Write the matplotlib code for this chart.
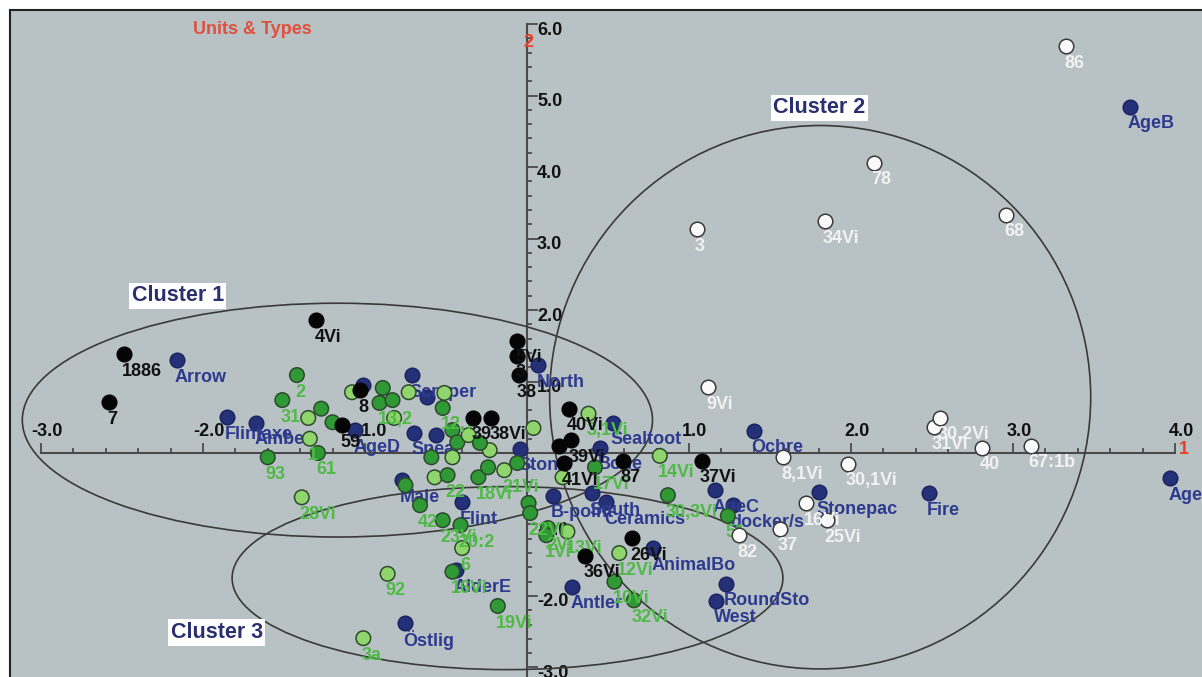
import matplotlib.pyplot as plt
from matplotlib.patches import Ellipse
import numpy as np

plt.rcParams['font.family'] = ['Liberation Sans', 'DejaVu Sans']
plt.rcParams['font.weight'] = 'bold'

# units (black)
black_lbl = ["1886", "7", "4Vi", "8", "59", "39", "38Vi", "5Vi", "3", "38", "40Vi",
             "39Vi", "", "41Vi", "87", "37Vi", "26Vi", "36Vi"]
black_x = [-2.49, -2.58, -1.30, -1.03, -1.14, -0.33, -0.22, -0.06, -0.06, -0.05, 0.26,
           0.27, 0.20, 0.23, 0.59, 1.08, 0.65, 0.36]
black_y = [1.38, 0.71, 1.86, 0.88, 0.39, 0.49, 0.49, 1.57, 1.36, 1.09, 0.62,
           0.18, 0.10, -0.14, -0.11, -0.11, -1.19, -1.44]

# types (navy)
navy_lbl = ["Arrow", "Flintaxe", "Amber", "AgeD", "", "Scraper", "", "Spear", "",
            "Stone", "Bone", "Male", "Flint", "North", "Sealtoot", "B-point", "South",
            "Ceramics", "AnimalBo", "Antler", "AlderE", "Östlig", "RoundSto", "West",
            "Ochre", "AgeC", "docker/s", "Stonepac", "Fire", "AgeB", "AgeA"]
navy_x = [-2.16, -1.85, -1.67, -1.06, -1.01, -0.71, -0.62, -0.70, -0.56,
          -0.04, 0.45, -0.77, -0.40, 0.07, 0.53, 0.16, 0.40,
          0.49, 0.78, 0.28, -0.44, -0.75, 1.23, 1.17,
          1.40, 1.16, 1.27, 1.80, 2.48, 3.72, 3.97]
navy_y = [1.30, 0.50, 0.42, 0.32, 0.95, 1.09, 0.78, 0.28, 0.25,
          0.06, 0.07, -0.38, -0.69, 1.23, 0.42, -0.60, -0.56,
          -0.69, -1.33, -1.87, -1.64, -2.38, -1.83, -2.07,
          0.31, -0.52, -0.73, -0.55, -0.56, 4.84, -0.35]

# units (green, d = dark, l = light)
green_lbl = ["2", "31", "", "", "", "1", "61", "93", "28Vi", "", "", "13,2", "", "",
             "", "", "12,7", "", "", "", "", "", "", "22", "18Vi", "", "", "",
             "42", "23Vi", "20:2", "6", "16Vi", "92", "3a", "19Vi", "", "22Vi",
             "2Vi", "1Vi", "13Vi", "12Vi", "10Vi", "32Vi", "14Vi", "30,3Vi", "51",
             "3,1Vi", "", "17Vi", "", "", "21Vi", ""]
green_kind = ["d", "d", "l", "d", "d", "l", "d", "d", "l", "l", "d", "d", "d", "l",
              "l", "l", "d", "d", "d", "l", "d", "l", "l", "d", "d", "d", "d", "d",
              "d", "d", "d", "l", "d", "l", "l", "d", "d", "d",
              "d", "d", "l", "l", "d", "d", "l", "d", "d",
              "l", "l", "d", "l", "l", "l", "d"]
green_x = [-1.42, -1.51, -1.35, -1.27, -1.20, -1.34, -1.29, -1.60, -1.39, -1.08, -0.89,
           -0.91, -0.83, -0.82, -0.73, -0.51, -0.52, -0.46, -0.43, -0.36, -0.59, -0.46,
           -0.57, -0.49, -0.30, -0.24, -0.06, -0.75,
           -0.66, -0.52, -0.41, -0.40, -0.46, -0.86, -1.01, -0.18, 0.01, 0.02,
           0.13, 0.12, 0.25, 0.57, 0.54, 0.66, 0.82, 0.87, 1.24,
           0.38, 0.04, 0.42, 0.22, -0.23, -0.14, -0.29]
green_y = [1.09, 0.74, 0.49, 0.62, 0.43, 0.20, 0.00, -0.06, -0.62, 0.85, 0.91,
           0.70, 0.74, 0.49, 0.85, 0.84, 0.63, 0.32, 0.15, 0.25, -0.06, -0.06,
           -0.34, -0.31, -0.34, -0.20, -0.14, -0.45,
           -0.73, -0.94, -1.01, -1.33, -1.66, -1.69, -2.59, -2.14, -0.70, -0.84,
           -1.05, -1.15, -1.10, -1.40, -1.80, -2.06, -0.04, -0.59, -0.88,
           0.55, 0.35, -0.20, -0.34, 0.04, -0.24, 0.14]

# units (white)
white_lbl = ["86", "78", "3", "34Vi", "68", "9Vi", "8,1Vi", "30,1Vi", "31Vi", "30,2Vi",
             "40", "67:1b", "82", "37", "25Vi", "16Vi"]
white_x = [3.33, 2.14, 1.05, 1.84, 2.96, 1.12, 1.58, 1.98, 2.51, 2.55,
           2.81, 3.11, 1.31, 1.56, 1.85, 1.72]
white_y = [5.69, 4.06, 3.13, 3.24, 3.33, 0.92, -0.06, -0.15, 0.36, 0.49,
           0.07, 0.10, -1.15, -1.06, -0.94, -0.70]

# clusters: label, centre x, centre y, width, height, label x, label y
cluster_lbl = ["Cluster 1", "Cluster 2", "Cluster 3"]
cluster_cx = [-1.17, 1.81, -0.12]
cluster_cy = [0.46, 0.78, -1.75]
cluster_w = [3.89, 3.34, 3.40]
cluster_h = [3.27, 7.60, 2.56]
cluster_tx = [-2.44, 1.52, -2.20]
cluster_ty = [2.20, 4.83, -2.51]

fig = plt.figure(figsize=(12.02, 6.77), dpi=100)
ax = fig.add_axes([10 / 1202, 0, 1192 / 1202, 667 / 677])
ax.set_facecolor('#b8c1c4')
ax.set_xlim(-3.191, 4.167)
ax.set_ylim(-3.133, 6.196)
ax.set_xticks([])
ax.set_yticks([])
for s in ['bottom', 'right']:
    ax.spines[s].set_visible(False)
for s in ['left', 'top']:
    ax.spines[s].set_linewidth(1.5)
    ax.spines[s].set_color('#222222')

axc = '#4a4a4a'
ax.plot([-3, 4], [0, 0], color=axc, lw=1.5, zorder=1)
ax.plot([0, 0], [-3.2, 6], color=axc, lw=1.5, zorder=1)
for t in np.arange(-3, 4.01, 0.2):
    major = abs(t - round(t)) < 1e-6
    ax.plot([t, t], [0, 0.125 if major else 0.055], color=axc, lw=1.3, zorder=1)
for t in np.arange(-3, 6.01, 0.2):
    major = abs(t - round(t)) < 1e-6
    ax.plot([0, 0.065 if major else 0.027], [t, t], color=axc, lw=1.3, zorder=1)

for v in [-3, -2, -1, 1, 2, 3, 4]:
    ax.annotate('%.1f' % v, (v, 0), xytext=(6, 21), textcoords='offset pixels',
                ha='center', va='center', fontsize=13, color='#111111', zorder=1)
for v in [6, 5, 4, 3, 2, 1, -1, -2, -3]:
    ax.annotate('%.1f' % v, (0, v), xytext=(10, -6), textcoords='offset pixels',
                ha='left', va='center', fontsize=13, color='#111111', zorder=1)
ax.annotate('2', (0, 6), xytext=(1, -18), textcoords='offset pixels', ha='center',
            va='center', fontsize=13, color='#e8402a', zorder=1)
ax.annotate('1', (4, 0), xytext=(9, 3), textcoords='offset pixels', ha='center',
            va='center', fontsize=13, color='#e8402a', zorder=1)

ax.text(-2.06, 5.92, 'Units & Types', fontsize=13, color='#e0503c', ha='left', va='center')

for i in range(3):
    ax.add_patch(Ellipse((cluster_cx[i], cluster_cy[i]), cluster_w[i], cluster_h[i],
                         fill=False, edgecolor='#3a3a3a', lw=1.2, zorder=2))
    ax.text(cluster_tx[i], cluster_ty[i], cluster_lbl[i], fontsize=15.5, color='#2b2f6e',
            ha='left', va='center', zorder=9,
            bbox=dict(boxstyle='square,pad=0.12', fc='white', ec='none'))


def draw(xs, ys, lbls, fc, ec, tc, z):
    ax.scatter(xs, ys, s=110, c=fc, edgecolors=ec, linewidths=1.1, zorder=z)
    for x, y, l in zip(xs, ys, lbls):
        if l:
            ax.annotate(l, (x, y), xytext=(-2, -17), textcoords='offset pixels',
                        ha='left', va='center', fontsize=13, color=tc, zorder=z)


draw(navy_x, navy_y, navy_lbl, '#243078', '#1c2460', '#2d3a8e', 3)
gfc = ['#2f9a35' if k == 'd' else '#8fd46c' for k in green_kind]
draw(green_x, green_y, green_lbl, gfc, '#2d4a2d', '#4fba45', 4)
draw(black_x, black_y, black_lbl, '#050505', '#050505', '#111111', 5)
draw(white_x, white_y, white_lbl, '#fafafa', '#3a3a3a', '#f2f2f2', 6)

fig.savefig('out.png', dpi=100)
